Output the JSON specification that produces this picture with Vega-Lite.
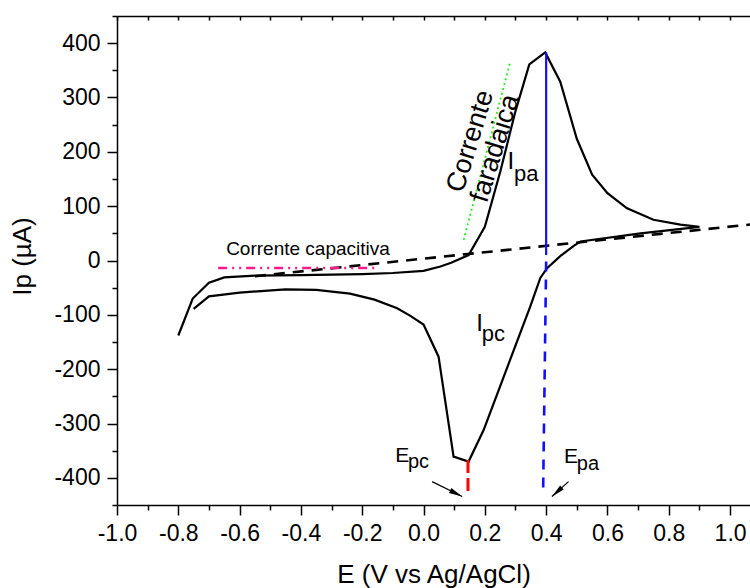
{
  "$schema": "https://vega.github.io/schema/vega-lite/v6.json",
  "width": 633,
  "height": 489,
  "autosize": {"type": "none"},
  "padding": {"left": 117, "top": 16, "right": 0, "bottom": 83},
  "background": "white",
  "config": {
    "view": {"stroke": null},
    "axis": {
      "labelFont": "Liberation Sans", "titleFont": "Liberation Sans",
      "labelColor": "black", "titleColor": "black",
      "domainColor": "black", "tickColor": "black",
      "domainWidth": 1.5, "tickWidth": 1.5, "grid": false,
      "titleFontWeight": "normal", "labelFontSize": 23, "titleFontSize": 26,
      "labelOverlap": false, "labelFlush": false, "labelBound": false
    },
    "text": {"font": "Liberation Sans", "color": "black"}
  },
  "datasets": {
    "cv": [
      {"i": 0, "x": -0.800, "y": -138},
      {"i": 1, "x": -0.753, "y": -70},
      {"i": 2, "x": -0.700, "y": -41},
      {"i": 3, "x": -0.650, "y": -31},
      {"i": 4, "x": -0.550, "y": -28},
      {"i": 5, "x": -0.400, "y": -27},
      {"i": 6, "x": -0.200, "y": -25},
      {"i": 7, "x": -0.100, "y": -23},
      {"i": 8, "x": 0.000, "y": -19},
      {"i": 9, "x": 0.055, "y": -11},
      {"i": 10, "x": 0.090, "y": -4},
      {"i": 11, "x": 0.147, "y": 10},
      {"i": 12, "x": 0.200, "y": 62},
      {"i": 13, "x": 0.250, "y": 163},
      {"i": 14, "x": 0.300, "y": 275},
      {"i": 15, "x": 0.345, "y": 361},
      {"i": 16, "x": 0.397, "y": 383},
      {"i": 17, "x": 0.446, "y": 329},
      {"i": 18, "x": 0.500, "y": 224},
      {"i": 19, "x": 0.550, "y": 158},
      {"i": 20, "x": 0.600, "y": 124},
      {"i": 21, "x": 0.664, "y": 96},
      {"i": 22, "x": 0.750, "y": 75},
      {"i": 23, "x": 0.838, "y": 66},
      {"i": 24, "x": 0.900, "y": 62},
      {"i": 25, "x": 0.708, "y": 50},
      {"i": 26, "x": 0.512, "y": 35},
      {"i": 27, "x": 0.490, "y": 27},
      {"i": 28, "x": 0.446, "y": 8},
      {"i": 29, "x": 0.403, "y": -14},
      {"i": 30, "x": 0.381, "y": -32},
      {"i": 31, "x": 0.348, "y": -85},
      {"i": 32, "x": 0.196, "y": -312},
      {"i": 33, "x": 0.147, "y": -370},
      {"i": 34, "x": 0.098, "y": -361},
      {"i": 35, "x": 0.049, "y": -177},
      {"i": 36, "x": 0.000, "y": -118},
      {"i": 37, "x": -0.043, "y": -102},
      {"i": 38, "x": -0.086, "y": -88},
      {"i": 39, "x": -0.160, "y": -72},
      {"i": 40, "x": -0.240, "y": -61},
      {"i": 41, "x": -0.350, "y": -54},
      {"i": 42, "x": -0.450, "y": -53},
      {"i": 43, "x": -0.600, "y": -59},
      {"i": 44, "x": -0.700, "y": -66},
      {"i": 45, "x": -0.750, "y": -89}
    ],
    "baseline": [{"x": -0.55, "y": -29, "x2": 1.07, "y2": 66.5}],
    "blueSolid": [{"x": 0.40, "y": 383, "x2": 0.40, "y2": 10}],
    "blueDash": [{"x": 0.40, "y": -2, "x2": 0.39, "y2": -432}],
    "redDash": [{"x": 0.145, "y": -367, "x2": 0.145, "y2": -427}],
    "green": [{"x": 0.131, "y": 38, "x2": 0.283, "y2": 366}],
    "pink": [{"x": -0.67, "y": -14, "x2": -0.16, "y2": -14}],
    "arrows": [
      {"x": 0.028, "y": -407, "x2": 0.126, "y2": -434.4},
      {"x": 0.473, "y": -407, "x2": 0.419, "y2": -434.4}
    ],
    "tipEpc": [{"x": 0.126, "y": -434.4}],
    "tipEpa": [{"x": 0.419, "y": -434.4}],
    "capacitiva": [{"x": -0.644, "y": 10.5, "t": "Corrente capacitiva"}],
    "faradaica": [
      {"x": 0.153, "y": 219.5, "t": "Corrente"},
      {"x": 0.234, "y": 206.5, "t": "faradaica"}
    ],
    "bigI": [
      {"x": 0.274, "y": 169, "t": "I"},
      {"x": 0.172, "y": -129.4, "t": "I"}
    ],
    "subI": [
      {"x": 0.295, "y": 147, "t": "pa"},
      {"x": 0.190, "y": -147.8, "t": "pc"}
    ],
    "bigE": [
      {"x": -0.092, "y": -370, "t": "E"},
      {"x": 0.458, "y": -372, "t": "E"}
    ],
    "subE": [
      {"x": -0.051, "y": -381.5, "t": "pc"},
      {"x": 0.500, "y": -385, "t": "pa"}
    ]
  },
  "layer": [
    {
      "data": {"name": "cv"},
      "mark": {"type": "line", "color": "black", "strokeWidth": 2.2},
      "encoding": {
        "x": {"field": "x", "type": "quantitative",
          "scale": {"domain": [-1, 1.065], "nice": false, "zero": false},
          "axis": {
            "orient": "bottom",
            "values": [-1, -0.9, -0.8, -0.7, -0.6, -0.5, -0.4, -0.3, -0.2, -0.1, 0, 0.1, 0.2, 0.3, 0.4, 0.5, 0.6, 0.7, 0.8, 0.9, 1.0],
            "labelExpr": "abs(round(datum.value*10)) % 2 == 0 ? (datum.value < 0 ? '-' : '') + format(abs(datum.value), '.1f') : ''",
            "tickSize": {"condition": {"test": "abs(round(datum.value*10)) % 2 == 0", "value": 10}, "value": 5},
            "labelPadding": 7,
            "title": "E (V vs Ag/AgCl)",
            "titleBaseline": "alphabetic",
            "titleY": 77
          }
        },
        "y": {"field": "y", "type": "quantitative",
          "scale": {"domain": [-450, 450], "nice": false, "zero": false},
          "axis": {
            "orient": "left",
            "values": [-450, -400, -350, -300, -250, -200, -150, -100, -50, 0, 50, 100, 150, 200, 250, 300, 350, 400, 450],
            "labelExpr": "datum.value % 100 == 0 ? (datum.value < 0 ? '-' : '') + format(abs(datum.value), 'd') : ''",
            "tickSize": {"condition": {"test": "datum.value % 100 == 0", "value": 10}, "value": 5},
            "labelPadding": 7,
            "title": "Ip (\u00b5A)",
            "titleBaseline": "alphabetic",
            "titleX": -87,
            "titleY": 240
          }
        },
        "order": {"field": "i", "type": "quantitative"}
      }
    },
    {
      "data": {"name": "baseline"},
      "mark": {"type": "rule", "color": "black", "strokeWidth": 2.6, "strokeDash": [11, 8], "clip": true},
      "encoding": {
        "x": {"field": "x", "type": "quantitative",
          "scale": {"domain": [-1, 1.065], "nice": false, "zero": false},
          "axis": {
            "orient": "top",
            "values": [-1, -0.9, -0.8, -0.7, -0.6, -0.5, -0.4, -0.3, -0.2, -0.1, 0, 0.1, 0.2, 0.3, 0.4, 0.5, 0.6, 0.7, 0.8, 0.9, 1.0],
            "labels": false, "tickSize": -4, "title": null
          }
        },
        "y": {"field": "y", "type": "quantitative", "scale": {"domain": [-450, 450], "nice": false, "zero": false}, "axis": null},
        "x2": {"field": "x2"},
        "y2": {"field": "y2"}
      }
    },
    {
      "data": {"name": "blueSolid"},
      "mark": {"type": "rule", "color": "#1010ff", "strokeWidth": 2.2},
      "encoding": {
        "x": {"field": "x", "type": "quantitative", "scale": {"domain": [-1, 1.065], "nice": false, "zero": false}, "axis": null},
        "y": {"field": "y", "type": "quantitative", "scale": {"domain": [-450, 450], "nice": false, "zero": false}, "axis": null},
        "x2": {"field": "x2"}, "y2": {"field": "y2"}
      }
    },
    {
      "data": {"name": "blueDash"},
      "mark": {"type": "rule", "color": "#1010ff", "strokeWidth": 2.6, "strokeDash": [10, 8]},
      "encoding": {
        "x": {"field": "x", "type": "quantitative", "scale": {"domain": [-1, 1.065], "nice": false, "zero": false}, "axis": null},
        "y": {"field": "y", "type": "quantitative", "scale": {"domain": [-450, 450], "nice": false, "zero": false}, "axis": null},
        "x2": {"field": "x2"}, "y2": {"field": "y2"}
      }
    },
    {
      "data": {"name": "redDash"},
      "mark": {"type": "rule", "color": "#ff0000", "strokeWidth": 3, "strokeDash": [13, 5]},
      "encoding": {
        "x": {"field": "x", "type": "quantitative", "scale": {"domain": [-1, 1.065], "nice": false, "zero": false}, "axis": null},
        "y": {"field": "y", "type": "quantitative", "scale": {"domain": [-450, 450], "nice": false, "zero": false}, "axis": null},
        "x2": {"field": "x2"}, "y2": {"field": "y2"}
      }
    },
    {
      "data": {"name": "green"},
      "mark": {"type": "rule", "color": "#22ee22", "strokeWidth": 1.8, "strokeDash": [2, 3]},
      "encoding": {
        "x": {"field": "x", "type": "quantitative", "scale": {"domain": [-1, 1.065], "nice": false, "zero": false}, "axis": null},
        "y": {"field": "y", "type": "quantitative", "scale": {"domain": [-450, 450], "nice": false, "zero": false}, "axis": null},
        "x2": {"field": "x2"}, "y2": {"field": "y2"}
      }
    },
    {
      "data": {"name": "pink"},
      "mark": {"type": "rule", "color": "#ff1a8c", "strokeWidth": 2.5, "strokeDash": [9, 5, 2, 5, 2, 5]},
      "encoding": {
        "x": {"field": "x", "type": "quantitative", "scale": {"domain": [-1, 1.065], "nice": false, "zero": false}, "axis": null},
        "y": {"field": "y", "type": "quantitative", "scale": {"domain": [-450, 450], "nice": false, "zero": false}, "axis": null},
        "x2": {"field": "x2"}, "y2": {"field": "y2"}
      }
    },
    {
      "data": {"name": "arrows"},
      "mark": {"type": "rule", "color": "black", "strokeWidth": 1.2},
      "encoding": {
        "x": {"field": "x", "type": "quantitative", "scale": {"domain": [-1, 1.065], "nice": false, "zero": false}, "axis": null},
        "y": {"field": "y", "type": "quantitative", "scale": {"domain": [-450, 450], "nice": false, "zero": false}, "axis": null},
        "x2": {"field": "x2"}, "y2": {"field": "y2"}
      }
    },
    {
      "data": {"name": "tipEpc"},
      "mark": {"type": "point", "shape": "M0,0L0.4,2L-0.4,2Z", "filled": true, "color": "black", "opacity": 1, "size": 180, "angle": 116.6},
      "encoding": {
        "x": {"field": "x", "type": "quantitative", "scale": {"domain": [-1, 1.065], "nice": false, "zero": false}, "axis": null},
        "y": {"field": "y", "type": "quantitative", "scale": {"domain": [-450, 450], "nice": false, "zero": false}, "axis": null}
      }
    },
    {
      "data": {"name": "tipEpa"},
      "mark": {"type": "point", "shape": "M0,0L0.4,2L-0.4,2Z", "filled": true, "color": "black", "opacity": 1, "size": 180, "angle": 227.9},
      "encoding": {
        "x": {"field": "x", "type": "quantitative", "scale": {"domain": [-1, 1.065], "nice": false, "zero": false}, "axis": null},
        "y": {"field": "y", "type": "quantitative", "scale": {"domain": [-450, 450], "nice": false, "zero": false}, "axis": null}
      }
    },
    {
      "data": {"name": "capacitiva"},
      "mark": {"type": "text", "fontSize": 19, "align": "left", "baseline": "alphabetic"},
      "encoding": {
        "x": {"field": "x", "type": "quantitative", "scale": {"domain": [-1, 1.065], "nice": false, "zero": false}, "axis": null},
        "y": {"field": "y", "type": "quantitative", "scale": {"domain": [-450, 450], "nice": false, "zero": false}, "axis": null},
        "text": {"field": "t"}
      }
    },
    {
      "data": {"name": "faradaica"},
      "mark": {"type": "text", "fontSize": 27, "align": "center", "baseline": "middle", "angle": -73},
      "encoding": {
        "x": {"field": "x", "type": "quantitative", "scale": {"domain": [-1, 1.065], "nice": false, "zero": false}, "axis": null},
        "y": {"field": "y", "type": "quantitative", "scale": {"domain": [-450, 450], "nice": false, "zero": false}, "axis": null},
        "text": {"field": "t"}
      }
    },
    {
      "data": {"name": "bigI"},
      "mark": {"type": "text", "fontSize": 24, "align": "left", "baseline": "alphabetic"},
      "encoding": {
        "x": {"field": "x", "type": "quantitative", "scale": {"domain": [-1, 1.065], "nice": false, "zero": false}, "axis": null},
        "y": {"field": "y", "type": "quantitative", "scale": {"domain": [-450, 450], "nice": false, "zero": false}, "axis": null},
        "text": {"field": "t"}
      }
    },
    {
      "data": {"name": "subI"},
      "mark": {"type": "text", "fontSize": 22, "align": "left", "baseline": "alphabetic"},
      "encoding": {
        "x": {"field": "x", "type": "quantitative", "scale": {"domain": [-1, 1.065], "nice": false, "zero": false}, "axis": null},
        "y": {"field": "y", "type": "quantitative", "scale": {"domain": [-450, 450], "nice": false, "zero": false}, "axis": null},
        "text": {"field": "t"}
      }
    },
    {
      "data": {"name": "bigE"},
      "mark": {"type": "text", "fontSize": 21, "align": "left", "baseline": "alphabetic"},
      "encoding": {
        "x": {"field": "x", "type": "quantitative", "scale": {"domain": [-1, 1.065], "nice": false, "zero": false}, "axis": null},
        "y": {"field": "y", "type": "quantitative", "scale": {"domain": [-450, 450], "nice": false, "zero": false}, "axis": null},
        "text": {"field": "t"}
      }
    },
    {
      "data": {"name": "subE"},
      "mark": {"type": "text", "fontSize": 20, "align": "left", "baseline": "alphabetic"},
      "encoding": {
        "x": {"field": "x", "type": "quantitative", "scale": {"domain": [-1, 1.065], "nice": false, "zero": false}, "axis": null},
        "y": {"field": "y", "type": "quantitative", "scale": {"domain": [-450, 450], "nice": false, "zero": false}, "axis": null},
        "text": {"field": "t"}
      }
    }
  ],
  "resolve": {"axis": {"x": "independent", "y": "independent"}}
}
